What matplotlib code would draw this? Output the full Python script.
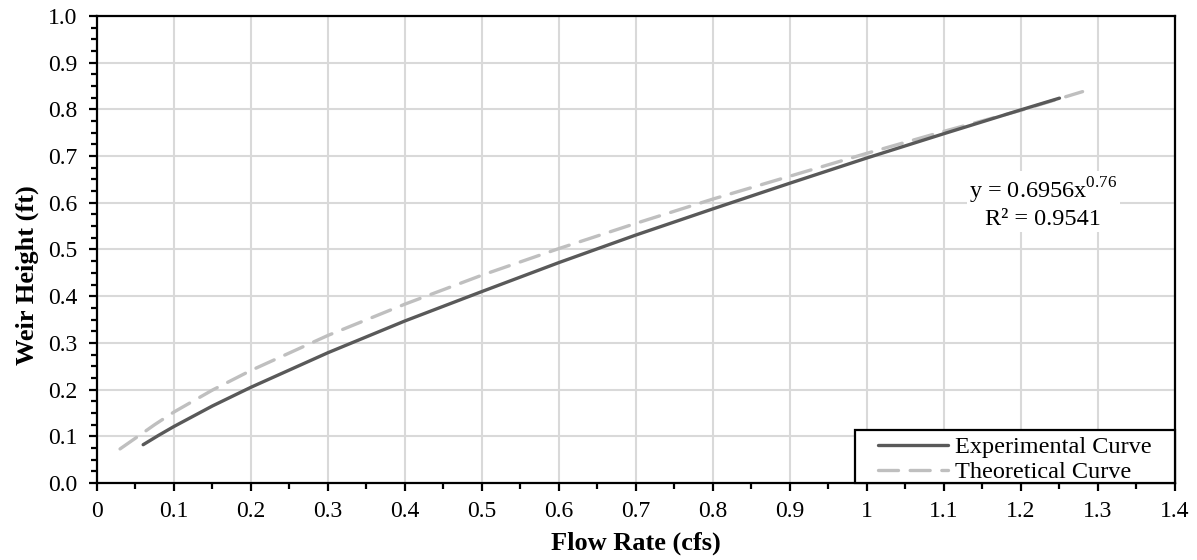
import matplotlib
matplotlib.use("Agg")
import matplotlib.pyplot as plt
from matplotlib.patches import Rectangle
from matplotlib.ticker import MultipleLocator, FuncFormatter

plt.rcParams["font.family"] = ["Liberation Serif", "DejaVu Serif"]
plt.rcParams["mathtext.fontset"] = "custom"
plt.rcParams["mathtext.rm"] = "Liberation Serif"

# Experimental power-law trendline: y = 0.6956 x^0.76
exp_flow = [0.06, 0.08, 0.10, 0.15, 0.20, 0.30, 0.40, 0.50, 0.60, 0.70,
            0.80, 0.90, 1.00, 1.10, 1.20, 1.25]
exp_height = [0.082, 0.102, 0.121, 0.165, 0.205, 0.279, 0.347, 0.410, 0.472,
              0.531, 0.587, 0.642, 0.696, 0.748, 0.799, 0.824]

# Theoretical weir curve
theo_flow = [0.03, 0.05, 0.075, 0.10, 0.15, 0.20, 0.30, 0.40, 0.50, 0.60,
             0.70, 0.80, 0.90, 1.00, 1.10, 1.20, 1.28]
theo_height = [0.073, 0.096, 0.125, 0.152, 0.199, 0.241, 0.316, 0.383, 0.445,
               0.502, 0.556, 0.608, 0.657, 0.706, 0.753, 0.798, 0.838]

fit_label = "y = 0.6956x$^{0.76}$\nR² = 0.9541"

fig = plt.figure(figsize=(11.97, 5.60), dpi=100)
ax = fig.add_axes([0.081, 0.1375, 0.9006, 0.834])

ax.plot(exp_flow, exp_height, color="#595959", lw=2.4, solid_capstyle="round",
        label="Experimental Curve", zorder=4)
ax.plot(theo_flow, theo_height, color="#bfbfbf", lw=2.4, dashes=(6, 3.5),
        dash_capstyle="round", label="Theoretical Curve", zorder=3)

ax.set_xlim(0, 1.4)
ax.set_ylim(0, 1.0)
ax.xaxis.set_major_locator(MultipleLocator(0.1))
ax.xaxis.set_minor_locator(MultipleLocator(0.05))
ax.yaxis.set_major_locator(MultipleLocator(0.1))
ax.yaxis.set_minor_locator(MultipleLocator(0.025))
ax.xaxis.set_major_formatter(FuncFormatter(
    lambda v, p: f"{v:.1f}".rstrip("0").rstrip(".") if abs(v) > 1e-9 else "0"))
ax.yaxis.set_major_formatter(FuncFormatter(lambda v, p: f"{v:.1f}"))

ax.grid(True, which="major", color="#d9d9d9", lw=1.5, zorder=0)
ax.set_axisbelow(True)
for s in ax.spines.values():
    s.set_linewidth(1.6)
    s.set_color("black")

ax.tick_params(which="major", direction="out", length=6, width=1.6,
               labelsize=17, color="black")
ax.tick_params(which="minor", direction="out", length=4, width=1.6)
ax.tick_params(axis="y", which="major", pad=8)
ax.tick_params(axis="x", which="major", pad=7)

ax.set_xlabel("Flow Rate (cfs)", fontsize=19, fontweight="bold", labelpad=7)
ax.set_ylabel("Weir Height (ft)", fontsize=19, fontweight="bold")
ax.yaxis.set_label_coords(-0.054, 0.445)

ax.text(1.229, 0.600, fit_label, ha="center", va="center", fontsize=17.5,
        linespacing=1.15, zorder=5,
        bbox=dict(facecolor="white", edgecolor="none", pad=2))

# Legend box in the lower-right corner
ax.add_patch(Rectangle((0.703, 0.0), 0.297, 0.1135, transform=ax.transAxes,
                       facecolor="white", edgecolor="black", lw=1.6, zorder=5,
                       clip_on=False))
leg = ax.legend(loc="lower left", bbox_to_anchor=(0.722, -0.006),
                fontsize=17.5, frameon=False, borderaxespad=0, borderpad=0.1,
                handlelength=2.9, handletextpad=0.3, labelspacing=0.12)
leg.set_zorder(6)

fig.savefig("out.png", dpi=100)
